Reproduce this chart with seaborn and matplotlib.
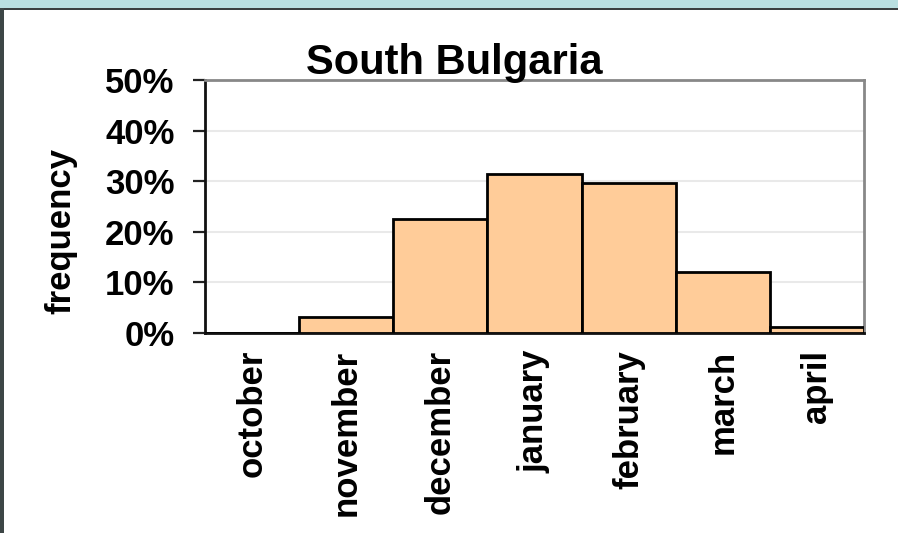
import matplotlib
matplotlib.use("Agg")
import matplotlib.pyplot as plt
import matplotlib.ticker as mtick
from matplotlib.patches import Rectangle
import seaborn as sns

# data
months = ["october", "november", "december", "january", "february", "march", "april"]
freq = [0.0, 0.031, 0.225, 0.314, 0.296, 0.121, 0.012]
yticks = [0.0, 0.1, 0.2, 0.3, 0.4, 0.5]

sns.set_style("white")
plt.rcParams["font.family"] = ["Liberation Sans", "DejaVu Sans"]
plt.rcParams["font.weight"] = "bold"
plt.rcParams["text.color"] = "black"
plt.rcParams["axes.labelcolor"] = "black"
plt.rcParams["xtick.color"] = "black"
plt.rcParams["ytick.color"] = "black"

W, H = 898, 533
fig = plt.figure(figsize=(W / 100, H / 100), dpi=100)
fig.patch.set_facecolor("white")

# slide frame: teal strip on top, dark edge on the left
fig.add_artist(Rectangle((0, 1 - 8 / H), 1, 8 / H, transform=fig.transFigure,
                         facecolor="#b9dfe0", edgecolor="none"))
fig.add_artist(Rectangle((0, 1 - 10 / H), 1, 2 / H, transform=fig.transFigure,
                         facecolor="#3a3f3f", edgecolor="none"))
fig.add_artist(Rectangle((0, 0), 4 / W, 1 - 8 / H, transform=fig.transFigure,
                         facecolor="#3d4646", edgecolor="none"))

x0, x1, y0, y1 = 205, 864, 333, 80
ax = fig.add_axes([x0 / W, 1 - y0 / H, (x1 - x0) / W, (y0 - y1) / H])

sns.barplot(x=months, y=freq, color="#ffcc99", edgecolor="black",
            linewidth=2.0, width=1.0, saturation=1, ax=ax, zorder=3)

ax.set_xlim(-0.5, 6.5)
ax.set_ylim(0, 0.5)
ax.set_yticks(yticks)
ax.yaxis.set_major_formatter(mtick.PercentFormatter(1.0, decimals=0))
ax.grid(axis="y", color="#e9e9e9", linewidth=1.5, zorder=0)
ax.set_axisbelow(True)

ax.tick_params(axis="y", direction="out", length=9, width=1.6, color="#222222",
               pad=13, labelsize=25, left=True)
ax.tick_params(axis="x", length=0, pad=12, labelsize=25, labelrotation=90)
for lab in ax.get_xticklabels() + ax.get_yticklabels():
    lab.set_fontweight("bold")

for side in ["left", "bottom"]:
    ax.spines[side].set_color("#111111")
    ax.spines[side].set_linewidth(2.0)
for side in ["top", "right"]:
    ax.spines[side].set_color("#888888")
    ax.spines[side].set_linewidth(2.0)
    ax.spines[side].set_visible(True)

ax.set_xlabel("")
ax.set_ylabel("frequency", fontsize=25, fontweight="bold")
ax.yaxis.set_label_coords(-0.194, 0.403)

ax.set_title("South Bulgaria", fontsize=30, fontweight="bold",
             x=0.378, y=1.024, pad=0)

fig.savefig("out.png", dpi=100)
